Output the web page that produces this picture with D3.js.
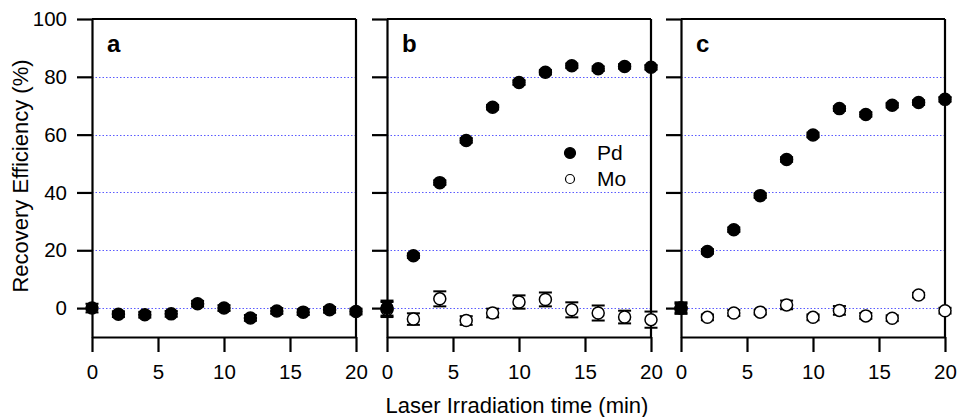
<!DOCTYPE html>
<html>
<head>
<meta charset="utf-8">
<script src="https://cdn.jsdelivr.net/npm/d3@7"></script>
<style>
  body { margin: 0; background: #fff; }
  svg { font-family: "Liberation Sans", Arial, sans-serif; }
</style>
</head>
<body>
<div id="chart"></div>
<script>
// Daten
const times = [0, 2, 4, 6, 8, 10, 12, 14, 16, 18, 20];
const panelLabels = ["a", "b", "c"];
const yTicks = [0, 20, 40, 60, 80, 100];
const xTicks = [0, 5, 10, 15, 20];
const gridValues = [0, 20, 40, 60, 80];
const legendNames = ["Pd", "Mo"];

const pdA    = [0, -2.1, -2.3, -2.0, 1.5, 0, -3.4, -1.0, -1.4, -0.6, -1.2];
const pdAErr = [1.5, 1, 1, 1, 1, 1, 1, 1, 1, 1, 1];

const pdB    = [0, 18.1, 43.4, 58.0, 69.5, 78.0, 81.6, 83.8, 82.8, 83.6, 83.3];
const pdBErr = [2.6, 0.8, 0.8, 0.8, 0.8, 0.8, 0.8, 0.8, 0.8, 0.8, 0.8];
const moB    = [-0.5, -3.8, 3.2, -4.3, -1.7, 2.1, 3.0, -0.6, -1.7, -3.1, -4.0];
const moBErr = [2.6, 2.0, 2.6, 1.5, 1.5, 2.3, 2.4, 2.6, 2.6, 2.2, 2.8];

const pdC    = [0, 19.6, 27.1, 38.9, 51.4, 59.9, 69.0, 67.0, 70.2, 71.1, 72.2];
const pdCErr = [2.0, 0.8, 0.8, 0.8, 0.8, 0.8, 0.8, 0.8, 0.8, 0.8, 0.8];
const moC    = [0, -3.2, -1.7, -1.4, 1.1, -3.2, -0.8, -2.7, -3.5, 4.5, -0.9];
const moCErr = [1.5, 1.0, 1.0, 0.8, 1.5, 1.0, 1.5, 1.0, 1.0, 0.8, 1.0];

const width = 958, height = 417;
const panelLefts = [92, 387, 681];
const panelWidth = 264;
const plotTop = 19, plotBottom = 337;

const svg = d3.select("#chart").append("svg")
  .attr("width", width)
  .attr("height", height);

const y = d3.scaleLinear().domain([-10, 100]).range([plotBottom, plotTop]);

function pts(vals, errs) {
  return times.map((t, i) => ({ x: t, y: vals[i], e: errs[i] }));
}

const panels = [
  { series: [{ data: pts(pdA, pdAErr), fill: "#000" }] },
  { series: [{ data: pts(moB, moBErr), fill: "#fff" }, { data: pts(pdB, pdBErr), fill: "#000" }] },
  { series: [{ data: pts(moC, moCErr), fill: "#fff" }, { data: pts(pdC, pdCErr), fill: "#000" }] }
];

panels.forEach((p, k) => {
  const left = panelLefts[k];
  const x = d3.scaleLinear().domain([0, 20]).range([left, left + panelWidth]);
  const g = svg.append("g");

  // Gitterlinien (blau gepunktet)
  g.selectAll(".grid")
    .data(gridValues)
    .enter().append("line")
      .attr("x1", x(0)).attr("x2", x(20))
      .attr("y1", d => Math.round(y(d)) + 0.5)
      .attr("y2", d => Math.round(y(d)) + 0.5)
      .attr("stroke", "#5a5aff")
      .attr("stroke-width", 1)
      .attr("stroke-dasharray", "1.5,2");

  // Achsen
  const yAxis = d3.axisLeft(y).tickValues(yTicks).tickSize(15).tickSizeOuter(0).tickPadding(10);
  if (k > 0) yAxis.tickFormat("");
  const xAxis = d3.axisBottom(x).tickValues(xTicks).tickSize(15).tickSizeOuter(0).tickPadding(12);

  const ya = g.append("g").attr("transform", `translate(${left},0)`).call(yAxis);
  const xa = g.append("g").attr("transform", `translate(0,${plotBottom})`).call(xAxis);
  [ya, xa].forEach(a => {
    a.selectAll("path, line").attr("stroke", "#000").attr("stroke-width", 2.2);
    a.selectAll("text").attr("font-size", 20.5).attr("fill", "#000")
      .attr("font-family", "'Liberation Sans', Arial, sans-serif");
  });

  // Rahmen oben und rechts
  g.append("line")
    .attr("x1", left).attr("x2", x(20))
    .attr("y1", y(100)).attr("y2", y(100))
    .attr("stroke", "#000").attr("stroke-width", 2.2);
  g.append("line")
    .attr("x1", x(20)).attr("x2", x(20))
    .attr("y1", y(100)).attr("y2", y(-10))
    .attr("stroke", "#000").attr("stroke-width", 2.2);

  // Panel-Buchstabe
  g.append("text")
    .attr("x", left + 15).attr("y", 52)
    .attr("font-size", 24).attr("font-weight", "bold")
    .text(panelLabels[k]);

  p.series.forEach(s => {
    // Fehlerbalken
    const eb = g.append("g");
    eb.selectAll(".bar").data(s.data).enter().append("line")
      .attr("x1", d => x(d.x)).attr("x2", d => x(d.x))
      .attr("y1", d => y(d.y - d.e)).attr("y2", d => y(d.y + d.e))
      .attr("stroke", "#000").attr("stroke-width", 2);
    eb.selectAll(".capLo").data(s.data).enter().append("line")
      .attr("x1", d => x(d.x) - 6.5).attr("x2", d => x(d.x) + 6.5)
      .attr("y1", d => y(d.y - d.e)).attr("y2", d => y(d.y - d.e))
      .attr("stroke", "#000").attr("stroke-width", 2);
    eb.selectAll(".capHi").data(s.data).enter().append("line")
      .attr("x1", d => x(d.x) - 6.5).attr("x2", d => x(d.x) + 6.5)
      .attr("y1", d => y(d.y + d.e)).attr("y2", d => y(d.y + d.e))
      .attr("stroke", "#000").attr("stroke-width", 2);

    // Punkte
    g.selectAll(null).data(s.data).enter().append("circle")
      .attr("cx", d => x(d.x)).attr("cy", d => y(d.y))
      .attr("r", 6)
      .attr("fill", s.fill)
      .attr("stroke", "#000")
      .attr("stroke-width", 1.5);
  });
});

// Legende in Panel b
const legend = svg.append("g");
legendNames.forEach((name, i) => {
  const ly = 153 + i * 26;
  legend.append("circle")
    .attr("cx", 570).attr("cy", ly)
    .attr("r", i === 0 ? 5.5 : 4.5)
    .attr("fill", i === 0 ? "#000" : "#fff")
    .attr("stroke", "#000").attr("stroke-width", 1.2);
  legend.append("text")
    .attr("x", 597).attr("y", ly + 7)
    .attr("font-size", 21)
    .text(name);
});

// Achsentitel
svg.append("text")
  .attr("x", 517).attr("y", 413)
  .attr("text-anchor", "middle")
  .attr("font-size", 22)
  .text("Laser Irradiation time (min)");

svg.append("text")
  .attr("transform", "translate(28,176) rotate(-90)")
  .attr("text-anchor", "middle")
  .attr("font-size", 22)
  .text("Recovery Efficiency (%)");
</script>
</body>
</html>
